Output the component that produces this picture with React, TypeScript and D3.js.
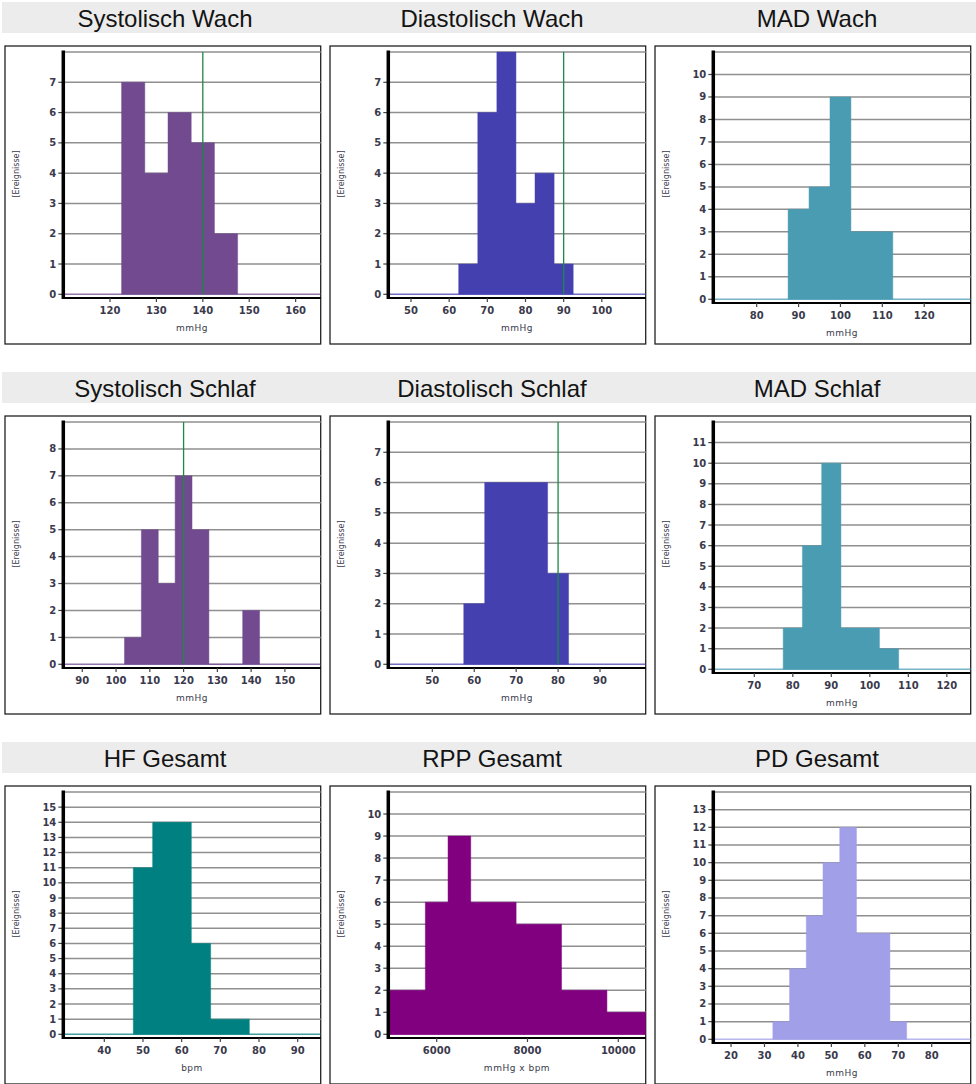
import React from "react";
import * as d3 from "d3";

// Histogram bins (lower edge of each class) and event counts per class
const sysWachBins = [122.5, 127.5, 132.5, 137.5, 142.5];
const sysWachCounts = [7, 4, 6, 5, 2];
const diaWachBins = [62.5, 67.5, 72.5, 77.5, 82.5, 87.5];
const diaWachCounts = [1, 6, 8, 3, 4, 1];
const madWachBins = [87.5, 92.5, 97.5, 102.5, 107.5];
const madWachCounts = [4, 5, 9, 3, 3];
const sysSchlafBins = [102.5, 107.5, 112.5, 117.5, 122.5, 127.5, 132.5, 137.5];
const sysSchlafCounts = [1, 5, 3, 7, 5, 0, 0, 2];
const diaSchlafBins = [57.5, 62.5, 67.5, 72.5, 77.5];
const diaSchlafCounts = [2, 6, 6, 6, 3];
const madSchlafBins = [77.5, 82.5, 87.5, 92.5, 97.5, 102.5];
const madSchlafCounts = [2, 6, 10, 2, 2, 1];
const hfBins = [47.5, 52.5, 57.5, 62.5, 67.5, 72.5];
const hfCounts = [11, 14, 14, 6, 1, 1];
const rppBins = [4750, 5250, 5750, 6250, 6750, 7250, 7750, 8250, 8750, 9250, 9750, 10250];
const rppCounts = [2, 2, 6, 9, 6, 6, 5, 5, 2, 2, 1, 1];
const pdBins = [32.5, 37.5, 42.5, 47.5, 52.5, 57.5, 62.5, 67.5];
const pdCounts = [1, 4, 7, 10, 12, 6, 6, 1];

// Panel titles, units, x ranges, x ticks, y maxima and threshold lines
const titles = [
  "Systolisch Wach", "Diastolisch Wach", "MAD Wach",
  "Systolisch Schlaf", "Diastolisch Schlaf", "MAD Schlaf",
  "HF Gesamt", "RPP Gesamt", "PD Gesamt",
];
const units = ["mmHg", "mmHg", "mmHg", "mmHg", "mmHg", "mmHg", "bpm", "mmHg x bpm", "mmHg"];
const binWidths = [5, 5, 5, 5, 5, 5, 5, 500, 5];
const xDomains: [number, number][] = [
  [109.94, 165.4], [44.05, 111.5], [69.64, 131.1],
  [84.38, 160.6], [39.5, 100.9], [59.35, 126.2],
  [29.4, 95.95], [4934, 10604], [14.7, 91.65],
];
const xTicks = [
  [120, 130, 140, 150, 160],
  [50, 60, 70, 80, 90, 100],
  [80, 90, 100, 110, 120],
  [90, 100, 110, 120, 130, 140, 150],
  [50, 60, 70, 80, 90],
  [70, 80, 90, 100, 110, 120],
  [40, 50, 60, 70, 80, 90],
  [6000, 8000, 10000],
  [20, 30, 40, 50, 60, 70, 80],
];
const yMax = [8, 8, 11, 9, 8, 12, 16, 11, 14];
const refLines: (number | null)[] = [140, 90, null, 120, 80, null, null, null, null];
const colors = [
  "#714a8f", "#4540b0", "#4a9cb3",
  "#714a8f", "#4540b0", "#4a9cb3",
  "#008080", "#800080", "#a09fe8",
];
const bins = [sysWachBins, diaWachBins, madWachBins, sysSchlafBins, diaSchlafBins, madSchlafBins, hfBins, rppBins, pdBins];
const counts = [sysWachCounts, diaWachCounts, madWachCounts, sysSchlafCounts, diaSchlafCounts, madSchlafCounts, hfCounts, rppCounts, pdCounts];

const W = 976;
const H = 1084;
const colX = [0, 325, 650];
const rowY = [0, 370, 740];
const titleCX = [165, 492, 817];
const FONT = "'DejaVu Sans', Verdana, sans-serif";
const TITLE_FONT = "'Liberation Sans', Arial, sans-serif";
const LABEL = "#3a3a4c";

// Outline of a step histogram: one closed polygon per run of adjacent bins
function stepOutline(lows: number[], cs: number[], bw: number): [number, number][] {
  const pts: [number, number][] = [];
  lows.forEach((lo, k) => {
    const hi = lo + bw;
    const prevHi = k > 0 ? lows[k - 1] + bw : null;
    if (prevHi === null || Math.abs(prevHi - lo) > 1e-9) pts.push([lo, 0]);
    pts.push([lo, cs[k]], [hi, cs[k]]);
    const nextLo = k < lows.length - 1 ? lows[k + 1] : null;
    if (nextLo === null || Math.abs(nextLo - hi) > 1e-9) pts.push([hi, 0]);
  });
  return pts;
}

function Panel({ i }: { i: number }) {
  const col = i % 3;
  const row = Math.floor(i / 3);
  const ox = colX[col];
  const oy = rowY[row];
  const left = ox + 63.3;
  const right = ox + 320.7;
  const top = oy + 52;
  const axisY = oy + (col === 2 ? 303 : 298);
  const zeroY = axisY - 3.7;

  const x = d3.scaleLinear().domain(xDomains[i]).range([left, right]);
  const y = d3.scaleLinear().domain([0, yMax[i]]).range([zeroY, top]);

  const pts = stepOutline(bins[i], counts[i], binWidths[i]);
  const line = d3.line<[number, number]>().x((d) => x(d[0])).y((d) => y(d[1]));
  const path = line(pts) + "Z";

  const gridVals = d3.range(1, yMax[i] + 1);
  const labelVals = d3.range(0, yMax[i]);
  const clipId = `clip-${i}`;
  const color = colors[i];
  const ref = refLines[i];

  return (
    <g>
      <defs>
        <clipPath id={clipId}>
          <rect x={left} y={top - 2} width={right - left} height={axisY - top + 2} />
        </clipPath>
      </defs>
      {/* frame */}
      <rect x={ox + 5} y={oy + 46} width={315.7} height={298} fill="#fff" stroke="#222" strokeWidth={1.3} />
      {/* horizontal grid */}
      {gridVals.map((v) => (
        <line key={v} x1={left} x2={right} y1={y(v)} y2={y(v)} stroke="#8f8f8f" strokeWidth={1.5} />
      ))}
      {/* histogram */}
      <g clipPath={`url(#${clipId})`}>
        <line x1={left} x2={right} y1={zeroY} y2={zeroY} stroke={color} strokeOpacity={0.75} strokeWidth={1.6} />
        <path d={path} fill={color} stroke={color} strokeOpacity={0.6} strokeWidth={0.8} />
      </g>
      {/* threshold line */}
      {ref !== null && (
        <line x1={x(ref)} x2={x(ref)} y1={top} y2={zeroY} stroke="#1a8a46" strokeWidth={1.3} />
      )}
      {/* y axis */}
      {labelVals.map((v) => (
        <g key={v}>
          <line x1={left - 5} x2={left} y1={y(v)} y2={y(v)} stroke="#444" strokeWidth={1.2} />
          <text x={left - 7} y={y(v)} dy="0.35em" textAnchor="end" fontFamily={FONT} fontWeight="bold" fontSize={10} fill={LABEL}>
            {v}
          </text>
        </g>
      ))}
      <line x1={left} x2={left} y1={top - 1.5} y2={axisY + 1} stroke="#000" strokeWidth={3.5} />
      {/* x axis */}
      <line x1={left} x2={right} y1={axisY} y2={axisY} stroke="#000" strokeWidth={2} />
      {xTicks[i].map((t) => (
        <g key={t}>
          <line x1={x(t)} x2={x(t)} y1={axisY} y2={axisY + 4} stroke="#444" strokeWidth={1.2} />
          <text x={x(t)} y={axisY + 12} dy="0.35em" textAnchor="middle" fontFamily={FONT} fontWeight="bold" fontSize={10} fill={LABEL}>
            {t}
          </text>
        </g>
      ))}
      <text
        x={(left + right) / 2}
        y={axisY + 30}
        dy="0.35em"
        textAnchor="middle"
        fontFamily={FONT}
        fontSize={9}
        fill={LABEL}
        letterSpacing={0.5}
      >
        {units[i]}
      </text>
      <text
        transform={`translate(${ox + 16},${oy + 174}) rotate(-90)`}
        textAnchor="middle"
        dy="0.35em"
        fontFamily={FONT}
        fontSize={8}
        fill={LABEL}
      >
        [Ereignisse]
      </text>
    </g>
  );
}

export default function App() {
  return (
    <svg
      width={W}
      height={H}
      viewBox={`0 0 ${W} ${H}`}
      style={{ position: "absolute", left: 0, top: 0, background: "#fff" }}
    >
      <rect x={0} y={0} width={W} height={H} fill="#fff" />
      {rowY.map((oy, r) => (
        <g key={r}>
          <rect x={2} y={oy + 2} width={W - 2} height={31} fill="#ececec" />
          {colX.map((_, c) => (
            <text
              key={c}
              x={titleCX[c]}
              y={oy + 26.5}
              textAnchor="middle"
              fontFamily={TITLE_FONT}
              fontSize={24}
              fill="#141414"
            >
              {titles[r * 3 + c]}
            </text>
          ))}
        </g>
      ))}
      {titles.map((_, i) => (
        <Panel key={i} i={i} />
      ))}
    </svg>
  );
}
